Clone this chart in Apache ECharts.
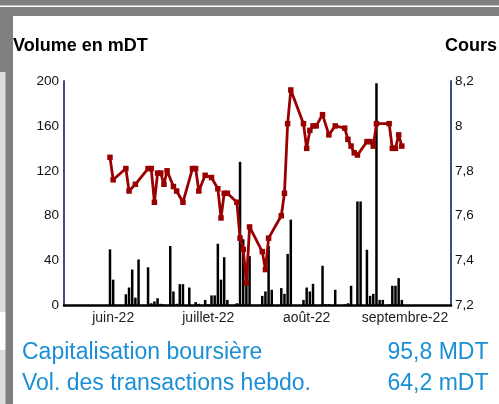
<!DOCTYPE html>
<html lang="fr">
<head>
<meta charset="UTF-8">
<title>Volume et cours</title>
<script src="https://cdn.jsdelivr.net/npm/echarts@6/dist/echarts.min.js"></script>
<style>
  html, body { margin: 0; padding: 0; background: #fff; }
  #main { width: 499px; height: 404px; }
</style>
</head>
<body>
<div id="main"></div>
<script type="text/javascript">
// axe des dates (un jour par catégorie)
var startDate = '2022-05-17';
var dayCount = 122;
var monthStarts = ['2022-06-01', '2022-07-01', '2022-08-01', '2022-09-01'];
var monthLabels = ['juin-22', 'juillet-22', 'août-22', 'septembre-22'];

// volume échangé (mDT)
var volDates = ['2022-05-31','2022-06-01','2022-06-05','2022-06-06','2022-06-07','2022-06-08','2022-06-09',
  '2022-06-12','2022-06-13','2022-06-14','2022-06-15','2022-06-16','2022-06-17','2022-06-19','2022-06-20',
  '2022-06-21','2022-06-22','2022-06-23','2022-06-25','2022-06-27','2022-06-28','2022-06-30','2022-07-01',
  '2022-07-02','2022-07-03','2022-07-04','2022-07-05','2022-07-06','2022-07-07','2022-07-10','2022-07-11',
  '2022-07-12','2022-07-13','2022-07-14','2022-07-18','2022-07-19','2022-07-20','2022-07-21','2022-07-24',
  '2022-07-25','2022-07-26','2022-07-27','2022-07-31','2022-08-01','2022-08-02','2022-08-03','2022-08-06',
  '2022-08-07','2022-08-08','2022-08-10','2022-08-13','2022-08-14','2022-08-15','2022-08-17','2022-08-18',
  '2022-08-20','2022-08-21','2022-08-22','2022-08-23','2022-08-24','2022-08-25','2022-08-27','2022-08-28',
  '2022-08-29','2022-08-30','2022-08-31'];
var volValues = [50, 23, 10, 16, 32, 7, 41,
  34, 2, 3.6, 6.5, 1.5, 1, 53, 12.5,
  1.5, 19, 19, 16, 3, 1.5, 5, 1,
  9, 9, 55, 23, 43, 5, 2, 128,
  59, 20, 44, 8.6, 12.5, 53, 14, 15.5,
  10.4, 46, 76.5, 5, 16, 12.5, 19.3, 35.4,
  1.2, 1.2, 14, 1, 2, 17.6, 92.7, 92.7,
  49.7, 8.6, 10.4, 198, 5, 5, 1, 17.6,
  17.6, 24.4, 5];

// cours (DT)
var priceDates = ['2022-05-31','2022-06-01','2022-06-05','2022-06-06','2022-06-08','2022-06-12','2022-06-13',
  '2022-06-14','2022-06-15','2022-06-16','2022-06-17','2022-06-18','2022-06-20','2022-06-21','2022-06-23',
  '2022-06-26','2022-06-27','2022-06-28','2022-06-30','2022-07-02','2022-07-04','2022-07-05','2022-07-06',
  '2022-07-07','2022-07-10','2022-07-11','2022-07-12','2022-07-13','2022-07-14','2022-07-18','2022-07-19',
  '2022-07-20','2022-07-24','2022-07-25','2022-07-26','2022-07-27','2022-07-31','2022-08-01','2022-08-02',
  '2022-08-03','2022-08-04','2022-08-06','2022-08-08','2022-08-10','2022-08-13','2022-08-14','2022-08-15',
  '2022-08-16','2022-08-17','2022-08-20','2022-08-21','2022-08-22','2022-08-23','2022-08-27','2022-08-28',
  '2022-08-29','2022-08-30','2022-08-31'];
var priceValues = [7.86, 7.76, 7.81, 7.71, 7.74, 7.81, 7.81,
  7.66, 7.79, 7.79, 7.74, 7.80, 7.73, 7.71, 7.66,
  7.81, 7.81, 7.71, 7.78, 7.77, 7.72, 7.59, 7.70,
  7.70, 7.66, 7.50, 7.45, 7.30, 7.55, 7.44, 7.36,
  7.50, 7.60, 7.70, 8.01, 8.16, 8.01, 7.90, 7.98,
  8.00, 8.00, 8.05, 7.96, 8.00, 7.99, 7.94, 7.91,
  7.88, 7.87, 7.93, 7.93, 7.91, 8.01, 8.01, 7.90,
  7.90, 7.96, 7.91];

// construction des catégories journalières
var days = [];
var t0 = Date.parse(startDate + 'T00:00:00Z');
for (var i = 0; i < dayCount; i++) {
    days.push(new Date(t0 + i * 86400000).toISOString().slice(0, 10));
}
function onDays(dates, values) {
    return days.map(function (d) {
        var k = dates.indexOf(d);
        return k >= 0 ? values[k] : null;
    });
}

var font = 'Liberation Sans, Arial, sans-serif';
var blue = '#1b8fd6';

var myChart = echarts.init(document.getElementById('main'));

var option = {
    animation: false,
    backgroundColor: '#808080',
    textStyle: { fontFamily: font },
    grid: { left: 64, right: 48, top: 81, bottom: 98.5 },
    graphic: [
        { type: 'rect', z: -10, shape: { x: 0, y: 5.5, width: 499, height: 1.6 }, style: { fill: '#ffffff' } },
        { type: 'rect', z: -10, shape: { x: 13, y: 16, width: 486, height: 388 }, style: { fill: '#ffffff' } },
        { type: 'rect', z: -10, shape: { x: 0, y: 72, width: 5.5, height: 240 }, style: { fill: '#dcdcdc' } },
        { type: 'rect', z: -10, shape: { x: 0, y: 312, width: 5.5, height: 38 }, style: { fill: '#ffffff' } },
        { type: 'rect', z: -10, shape: { x: 0, y: 350, width: 5.5, height: 54 }, style: { fill: '#dcdcdc' } },
        { type: 'text', x: 13, y: 46, z: 10, style: { text: 'Volume en mDT', font: 'bold 18px ' + font, fill: '#000', verticalAlign: 'middle' } },
        { type: 'text', x: 445, y: 46, z: 10, style: { text: 'Cours', font: 'bold 18px ' + font, fill: '#000', verticalAlign: 'middle' } },
        { type: 'text', x: 22, y: 353, z: 10, style: { text: 'Capitalisation boursière', font: '23px ' + font, fill: blue, verticalAlign: 'middle' } },
        { type: 'text', x: 488.5, y: 353, z: 10, style: { text: '95,8 MDT', font: '23px ' + font, fill: blue, align: 'right', verticalAlign: 'middle' } },
        { type: 'text', x: 22, y: 384, z: 10, style: { text: 'Vol. des transactions hebdo.', font: '23px ' + font, fill: blue, verticalAlign: 'middle' } },
        { type: 'text', x: 488.5, y: 384, z: 10, style: { text: '64,2 mDT', font: '23px ' + font, fill: blue, align: 'right', verticalAlign: 'middle' } }
    ],
    xAxis: {
        type: 'category',
        data: days,
        boundaryGap: true,
        axisLine: { lineStyle: { color: '#000', width: 2.5 } },
        axisTick: { show: false },
        splitLine: { show: false },
        axisLabel: {
            fontSize: 14,
            color: '#222',
            margin: 6,
            interval: function (index, value) {
                return monthStarts.indexOf(value) >= 0;
            },
            formatter: function (value) {
                var k = monthStarts.indexOf(value);
                return k >= 0 ? monthLabels[k] : '';
            }
        }
    },
    yAxis: [{
        type: 'value',
        min: 0,
        max: 200,
        interval: 40,
        axisLine: { show: true, lineStyle: { color: '#3f4c85', width: 2 } },
        axisTick: { show: false },
        splitLine: { show: false },
        axisLabel: { fontSize: 13.5, color: '#111', margin: 5 }
    }, {
        type: 'value',
        position: 'right',
        min: 7.2,
        max: 8.2,
        interval: 0.2,
        axisLine: { show: true, lineStyle: { color: '#3f4c85', width: 2 } },
        axisTick: { show: false },
        splitLine: { show: false },
        axisLabel: {
            fontSize: 13.5,
            color: '#111',
            margin: 4,
            formatter: function (v) {
                return String(+v.toFixed(1)).replace('.', ',');
            }
        }
    }],
    series: [{
        name: 'Volume',
        type: 'bar',
        yAxisIndex: 0,
        barWidth: 2.5,
        itemStyle: { color: '#000' },
        data: onDays(volDates, volValues)
    }, {
        name: 'Cours',
        type: 'line',
        yAxisIndex: 1,
        connectNulls: true,
        showAllSymbol: true,
        symbol: 'rect',
        symbolSize: 5.5,
        itemStyle: { color: '#990000' },
        lineStyle: { color: '#990000', width: 2.8 },
        data: onDays(priceDates, priceValues)
    }]
};

myChart.setOption(option);
</script>
</body>
</html>
